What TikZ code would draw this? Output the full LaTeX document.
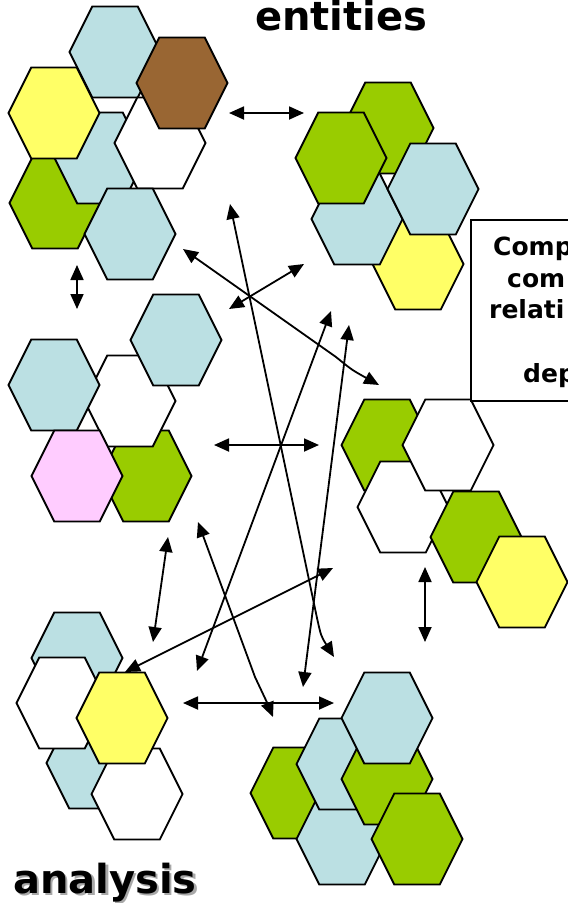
\documentclass[tikz,border=0pt]{standalone}
\usepackage{fontspec}
\setmainfont{DejaVu Sans}
\usetikzlibrary{arrows.meta}
\definecolor{hblue}{HTML}{BBE0E3}
\definecolor{hgreen}{HTML}{99CC00}
\definecolor{hyellow}{HTML}{FFFF66}
\definecolor{hbrown}{HTML}{996633}
\definecolor{hpink}{HTML}{FFCCFF}
\definecolor{shadowgray}{HTML}{A8A8A8}
\newcommand\hx[4]{%
  \coordinate (#1) at (#2,#3);
  \filldraw[hexb,fill=#4] ([xshift=-45.5pt]#1) -- ++(22.75,-45.5) -- ++(45.5,0) -- ++(22.75,45.5) -- ++(-22.75,45.5) -- ++(-45.5,0) -- cycle;}
\newcommand\shadowed[1]{\rlap{\kern2.5pt\raisebox{-2.5pt}{\textcolor{shadowgray}{#1}}}#1}
\begin{document}
\begin{tikzpicture}[x=1pt,y=-1pt,
  hexb/.style={draw=black,line width=1.8pt,line join=miter},
  conn/.style={line width=1.8pt,{Triangle[length=15pt,width=13pt]}-{Triangle[length=15pt,width=13pt]}},
  bigtitle/.style={inner sep=0pt,anchor=base west,font=\fontsize{40pt}{48pt}\selectfont\bfseries},
  boxtext/.style={inner sep=0pt,anchor=base west,font=\fontsize{25pt}{30pt}\selectfont\bfseries},
  notebox/.style={draw=black,line width=1.8pt}]
\useasboundingbox (0,0) rectangle (568,903);
\begin{scope}
\clip (0,0) rectangle (568,903);
% top-left cluster
\hx{tlA}{115}{52}{hblue}
\hx{tlB}{55}{203}{hgreen}
\hx{tlC}{100}{158}{hblue}
\hx{tlD}{54}{113}{hyellow}
\hx{tlE}{160}{143}{white}
\hx{tlF}{182}{83}{hbrown}
\hx{tlG}{130}{234}{hblue}
% top-right cluster
\hx{trA}{418}{264}{hyellow}
\hx{trB}{388}{128}{hgreen}
\hx{trC}{357}{219}{hblue}
\hx{trD}{341}{158}{hgreen}
\hx{trE}{433}{189}{hblue}
% middle-left cluster
\hx{mlA}{146}{476}{hgreen}
\hx{mlB}{130}{401}{white}
\hx{mlC}{54}{385}{hblue}
\hx{mlD}{176}{340}{hblue}
\hx{mlE}{77}{476}{hpink}
% middle-right cluster
\hx{mrA}{387}{445}{hgreen}
\hx{mrB}{403}{507}{white}
\hx{mrC}{448}{445}{white}
\hx{mrD}{476}{537}{hgreen}
\hx{mrE}{522}{582}{hyellow}
% bottom-left cluster
\hx{blA}{77}{658}{hblue}
\hx{blB}{92}{763}{hblue}
\hx{blC}{62}{703}{white}
\hx{blD}{137}{794}{white}
\hx{blE}{122}{718}{hyellow}
% bottom-right cluster
\hx{brA}{296}{793}{hgreen}
\hx{brB}{342}{839}{hblue}
\hx{brC}{342}{764}{hblue}
\hx{brD}{387}{779}{hgreen}
\hx{brE}{387}{718}{hblue}
\hx{brF}{417}{839}{hgreen}
% note box
\node[notebox,minimum width=160pt,minimum height=181pt,anchor=north west,inner sep=0pt] (note) at (470,219) {};
\node[boxtext] (n1) at (493,255) {Comp};
\node[boxtext] (n2) at (507,287) {com};
\node[boxtext] (n3) at (489,318) {relati};
\node[boxtext] (n4) at (523,382) {dep};
\end{scope}
% titles
\node[bigtitle] (ent) at (255,30) {entities};
\node[bigtitle] (ana) at (13,893) {\shadowed{analysis}};
% connector end points
\coordinate (a1s) at (229,113); \coordinate (a1e) at (304,113);
\coordinate (a2s) at (77,265);  \coordinate (a2e) at (77,309);
\coordinate (a3s) at (214,445); \coordinate (a3e) at (319,445);
\coordinate (a4s) at (425,567); \coordinate (a4e) at (425,642);
\coordinate (a5s) at (183,703); \coordinate (a5e) at (334,703);
\coordinate (a6s) at (168,537); \coordinate (a6e) at (153,642);
\coordinate (a7s) at (229,309); \coordinate (a7e) at (304,264);
\coordinate (a8s) at (183,249); \coordinate (a8b) at (336,357); \coordinate (a8c) at (352,370); \coordinate (a8e) at (379,385);
\coordinate (a9s) at (230,204); \coordinate (a9b) at (317,618); \coordinate (a9c) at (321,636); \coordinate (a9e) at (334,657);
\coordinate (a10s) at (331,311); \coordinate (a10e) at (197,671);
\coordinate (a11s) at (349,325); \coordinate (a11e) at (303,687);
\coordinate (a12s) at (198,522); \coordinate (a12b) at (255,677); \coordinate (a12c) at (262,690); \coordinate (a12e) at (273,717);
\coordinate (a13s) at (333,568); \coordinate (a13e) at (125,672);
% connectors
\draw[conn] (a1s) -- (a1e);
\draw[conn] (a2s) -- (a2e);
\draw[conn] (a3s) -- (a3e);
\draw[conn] (a4s) -- (a4e);
\draw[conn] (a5s) -- (a5e);
\draw[conn] (a6s) -- (a6e);
\draw[conn] (a7s) -- (a7e);
\draw[conn] (a8s) -- (a8b) .. controls (a8c) .. (a8e);
\draw[conn] (a9s) -- (a9b) .. controls (a9c) .. (a9e);
\draw[conn] (a10s) -- (a10e);
\draw[conn] (a11s) -- (a11e);
\draw[conn] (a12s) -- (a12b) .. controls (a12c) .. (a12e);
\draw[conn] (a13s) -- (a13e);
\end{tikzpicture}
\end{document}
